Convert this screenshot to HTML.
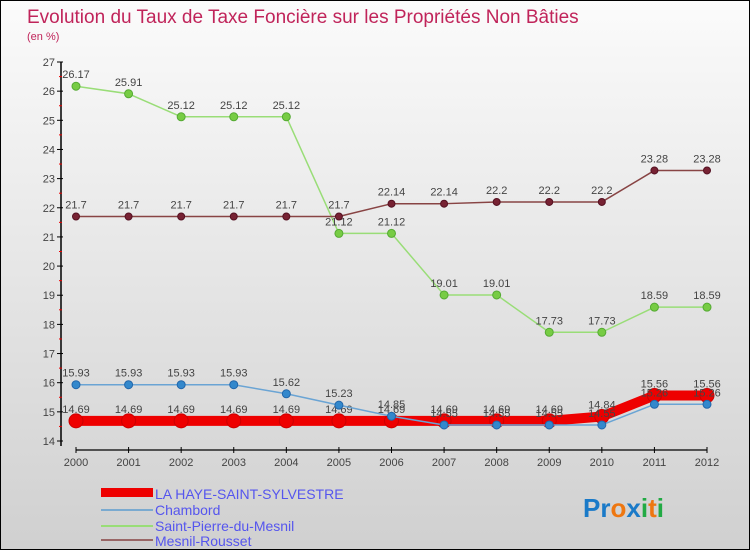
<!DOCTYPE html>
<html><head><meta charset="utf-8">
<style>
body{margin:0;}
#wrap{width:748px;height:548px;border:1px solid #000;background:linear-gradient(#fbfbfb,#d0d0d0);position:relative;overflow:hidden;font-family:"Liberation Sans",sans-serif;}
svg text{font-family:"Liberation Sans",sans-serif;}
</style></head>
<body>
<div id="wrap">
<svg id="chart" width="748" height="548">
<text x="26" y="22" font-size="19" fill="#c0245a">Evolution du Taux de Taxe Foncière sur les Propriétés Non Bâties</text>
<text x="26" y="39" font-size="11" fill="#c0245a">(en %)</text>
<g id="axes"></g>
<g id="series"></g>
<g id="legend">
<rect x="100" y="487" width="52" height="9" fill="#e00"/>
<text x="154" y="498" font-size="14" fill="#5555ee">LA HAYE-SAINT-SYLVESTRE</text>
<rect x="100" y="508" width="52" height="2" fill="#7aaad0"/>
<text x="154" y="514" font-size="14" fill="#5555ee">Chambord</text>
<rect x="100" y="524" width="52" height="2" fill="#99dd77"/>
<text x="154" y="530" font-size="14" fill="#5555ee">Saint-Pierre-du-Mesnil</text>
<rect x="100" y="538" width="52" height="2" fill="#996666"/>
<text x="154" y="545" font-size="14" fill="#5555ee">Mesnil-Rousset</text>
</g>
<text x="582" y="516" font-size="26" font-weight="bold"><tspan fill="#1a7ac8">Pr</tspan><tspan fill="#ee7711">o</tspan><tspan fill="#1a7ac8">x</tspan><tspan fill="#22aa44">i</tspan><tspan fill="#ee7711">t</tspan><tspan fill="#22aa44">i</tspan></text>
</svg>
</div>
<script>
const years=[2000,2001,2002,2003,2004,2005,2006,2007,2008,2009,2010,2011,2012];
const yTicks=[14,15,16,17,18,19,20,21,22,23,24,25,26,27];
const laHaye=[14.69,14.69,14.69,14.69,14.69,14.69,14.69,14.69,14.69,14.69,14.84,15.56,15.56];
const chambord=[15.93,15.93,15.93,15.93,15.62,15.23,14.85,14.55,14.55,14.55,14.55,15.26,15.26];
const saintPierre=[26.17,25.91,25.12,25.12,25.12,21.12,21.12,19.01,19.01,17.73,17.73,18.59,18.59];
const mesnil=[21.7,21.7,21.7,21.7,21.7,21.7,22.14,22.14,22.2,22.2,22.2,23.28,23.28];
const NS="http://www.w3.org/2000/svg";
const X=i=>75+i*(631/(years.length-1));
const Y=v=>440-(v-14)*(379/13);
function mk(tag,attrs,parent){const e=document.createElementNS(NS,tag);for(const k in attrs)e.setAttribute(k,attrs[k]);parent.appendChild(e);return e;}
const ax=document.getElementById('axes');
let yl=mk('line',{x1:60,y1:61,x2:60,y2:445,stroke:'#000','stroke-width':1.5},ax);


yTicks.forEach(t=>{
 let l=mk('line',{x1:56,x2:62,y1:Y(t),y2:Y(t),stroke:'#000'},ax);
 
 
 if(t<27){let m=mk('line',{x1:58,x2:61,y1:Y(t+0.5),y2:Y(t+0.5),stroke:'#e00'},ax);
 
 }
 let tx=mk('text',{x:54,y:Y(t)+4,'font-size':11,'text-anchor':'end',fill:'#444'},ax);tx.textContent=t;
 
 
});
let xl=mk('line',{x1:75,y1:449,x2:706,y2:449,stroke:'#000','stroke-width':1.2},ax);


years.forEach((y,i)=>{
 let l=mk('line',{x1:X(i),x2:X(i),y1:446,y2:452,stroke:'#000'},ax);
 
 
 let tx=mk('text',{x:X(i),y:465,'font-size':11,'text-anchor':'middle',fill:'#444'},ax);tx.textContent=y;
 
 
});
const sg=document.getElementById('series');
function series(data,name,color,width,r,fill,dot){
 const g=mk('g',{},sg);
 
 
 let p=mk('polyline',{points:data.map((v,i)=>X(i)+','+Y(v)).join(' '),fill:'none',stroke:color,'stroke-width':width,'stroke-linejoin':'round'},g);
 
 
 data.forEach((v,i)=>{
  let c=mk('circle',{cx:X(i),cy:Y(v),r:r,fill:fill,stroke:dot,'stroke-width':1},g);
  
  
  let t=mk('text',{x:X(i),y:Y(v)-8,'font-size':11,'text-anchor':'middle',fill:'#444'},g);t.textContent=v;
  
  
 });
}
series(saintPierre,'saint-pierre','#99dd77',1.5,4,'#77cc44','#55aa33');
series(mesnil,'mesnil-rousset','#884444',1.5,3.5,'#772233','#551122');
series(laHaye,'la-haye','#ee0000',10,7,'#ee0000','#cc0000');
series(chambord,'chambord','#6aa4d4',1.5,4,'#3388cc','#2266aa');
</script>
</body></html>
